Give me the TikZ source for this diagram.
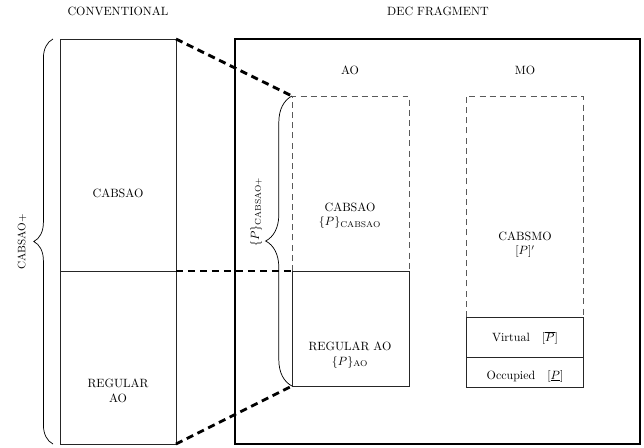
\documentclass[tikz,border=0pt]{standalone}
\usepackage{amsmath}
\usetikzlibrary{calc,decorations.pathreplacing}

\begin{document}
\begin{tikzpicture}[x=0.293mm,y=-0.293mm,
        box/.style={draw=black!85, line width=0.6pt},
        ghost/.style={draw=black!65, line width=0.6pt, dash pattern=on 5pt off 3.5pt},
        frame/.style={draw=black, line width=1.2pt},
        zoomline/.style={line width=2.4pt, dash pattern=on 6pt off 4pt},
        curly/.style={decorate, decoration={brace, amplitude=#1}, line width=0.6pt}]
        \useasboundingbox (0,0) rectangle (644,447);

        % Headings
        \node (conv) at (118,11) {CONVENTIONAL};
        \node (dec) at (438,11) {DEC FRAGMENT};
        \node (ao) at (350,70) {AO};
        \node (mo) at (525,70) {MO};

        % Corners
        \coordinate (conv-tl) at (60,39);
        \coordinate (conv-tr) at (176,39);
        \coordinate (conv-ml) at (60,271);
        \coordinate (conv-mr) at (176,271);
        \coordinate (conv-bl) at (60,444);
        \coordinate (conv-br) at (176,444);

        \coordinate (ao-tl) at (292,96);
        \coordinate (ao-tr) at (409,96);
        \coordinate (ao-ml) at (292,271);
        \coordinate (ao-mr) at (409,271);
        \coordinate (ao-bl) at (292,386);
        \coordinate (ao-br) at (409,386);

        \coordinate (mo-tl) at (466,96);
        \coordinate (mo-tr) at (583,96);
        \coordinate (mo-vl) at (466,317);
        \coordinate (mo-vr) at (583,317);
        \coordinate (mo-ol) at (466,357);
        \coordinate (mo-or) at (583,357);
        \coordinate (mo-br) at (583,387);

        % Conventional column
        \draw[box] (conv-tl) rectangle (conv-br);
        \draw[box] (conv-ml) -- (conv-mr);
        \node (cabsao) at (118,193) {CABSAO};
        \node[align=center] (regular) at (118,391) {REGULAR\\AO};
        \draw[curly=16pt] (53,444) -- (53,39);
        \node[rotate=90, font=\small] (cplus) at (22,242) {CABSAO+};

        % DEC fragment
        \draw[frame] (235,39) rectangle (640,444);

        % AO column
        \draw[ghost] (ao-ml) -- (ao-tl) -- (ao-tr) -- (ao-mr);
        \draw[box] (ao-ml) rectangle (ao-br);
        \node[align=center] (aocab) at (350,216) {CABSAO\\$\{P\}_{\mathrm{CABSAO}}$};
        \node[align=center] (aoreg) at (350,355) {REGULAR AO\\$\{P\}_{\mathrm{AO}}$};
        \draw[curly=22pt] (ao-bl) -- (ao-tl);
        \node[rotate=90] (pplus) at (256,212) {$\{P\}_{\mathrm{CABSAO+}}$};

        % MO column
        \draw[ghost] (mo-vl) -- (mo-tl) -- (mo-tr) -- (mo-vr);
        \draw[box] (mo-vl) rectangle (mo-br);
        \draw[box] (mo-ol) -- (mo-or);
        \node[align=center] (cabsmo) at (525,245) {CABSMO\\$[P]'$};
        \node (virt) at (525,338) {Virtual\quad$[\overline{P}]$};
        \node (occ) at (525,376) {Occupied\quad$[\underline{P}]$};

        % Zoom lines
        \draw[zoomline] (conv-tr) -- (ao-tl);
        \draw[zoomline] (conv-mr) -- (ao-ml);
        \draw[zoomline] (conv-br) -- (ao-bl);
\end{tikzpicture}
\end{document}
